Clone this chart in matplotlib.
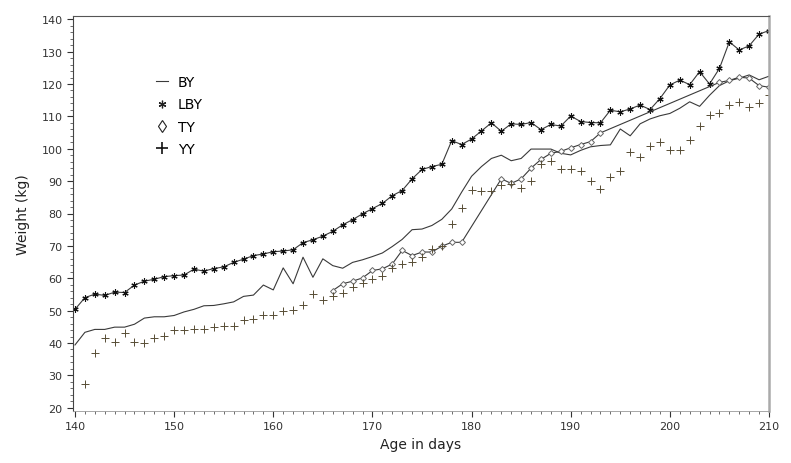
import matplotlib
matplotlib.use("Agg")
import matplotlib.pyplot as plt
from matplotlib.lines import Line2D
from matplotlib.ticker import MultipleLocator
import numpy as np

plt.rcParams['font.family'] = ['DejaVu Sans']

days = list(range(140, 211))

by = [39.4, 43.3, 44.2, 44.2, 44.9, 44.9, 45.8, 47.7, 48.1, 48.1,
      48.5, 49.6, 50.4, 51.5, 51.6, 52.1, 52.7, 54.4, 54.8, 57.9,
      56.4, 63.2, 58.3, 66.5, 60.3, 66.0, 63.9, 63.1, 64.9, 65.7,
      66.7, 67.8, 69.8, 72.0, 75.0, 75.2, 76.3, 78.2, 81.4, 86.6,
      91.5, 94.5, 97.0, 98.0, 96.3, 97.0, 99.9, 99.9, 99.9, 98.6,
      98.1, 99.5, 100.6, 101.0, 101.2, 106.1, 104.0, 107.7, 109.2, 110.2,
      110.9, 112.5, 114.5, 113.1, 116.5, 119.5, 121.0, 121.8, 122.8, 121.3,
      122.4]

lby = [50.4, 54.0, 55.1, 54.7, 55.7, 55.6, 57.9, 59.1, 59.7, 60.5,
       60.8, 61.0, 62.8, 62.2, 63.0, 63.5, 64.9, 65.9, 67.0, 67.5,
       68.2, 68.4, 68.8, 71.0, 71.9, 73.0, 74.5, 76.5, 78.1, 79.9,
       81.5, 83.1, 85.5, 87.1, 90.7, 93.6, 94.5, 95.2, 102.5, 101.3,
       103.0, 105.5, 108.0, 105.4, 107.7, 107.5, 108.1, 105.9, 107.5, 107.0,
       110.1, 108.4, 108.1, 108.0, 111.9, 111.4, 112.3, 113.5, 112.1, 115.5,
       119.7, 121.2, 119.8, 123.8, 120.0, 124.8, 133.0, 130.5, 131.8, 135.4,
       136.5]

ty_days = [166, 167, 168, 169, 170, 171, 172, 173, 174, 175, 176, 177, 178, 179,
           183, 184, 185, 186, 187, 188, 189, 190, 191, 192, 193,
           205, 206, 207, 208, 209, 210]
ty = [56.2, 58.3, 59.1, 60.1, 62.4, 62.9, 64.4, 68.6, 67.0, 68.1, 68.1, 69.9, 71.1, 71.1,
      90.7, 89.3, 90.7, 94.0, 96.7, 98.6, 99.2, 100.3, 101.3, 102.2, 104.9,
      120.5, 121.1, 122.1, 121.8, 119.5, 119.0]

yy_days = list(range(141, 211))
yy = [27.2, 37.0, 41.5, 40.4, 43.1, 40.2, 40.0, 41.5, 42.1,
      43.9, 43.9, 44.4, 44.4, 44.9, 45.3, 45.3, 47.2, 47.4, 48.5,
      48.5, 50.0, 50.2, 51.6, 55.0, 53.3, 54.6, 55.5, 57.2, 58.6,
      59.8, 60.8, 63.2, 64.4, 65.0, 66.5, 69.1, 70.1, 76.9, 81.6,
      87.4, 87.1, 87.1, 88.9, 89.0, 87.9, 89.9, 95.2, 96.3, 93.8,
      93.8, 93.2, 89.9, 87.5, 91.2, 93.2, 99.1, 97.4, 100.7, 102.2,
      99.6, 99.6, 102.8, 107.1, 110.3, 110.9, 113.4, 114.5, 113.0, 114.1,
      116.6]

series_labels = ["BY", "LBY", "TY", "YY"]

fig = plt.figure(figsize=(7.91, 4.64), dpi=100)
ax = fig.add_axes([73/791, 1-412/464, 696/791, 395/464])

line_col = '#3a3a3a'
ax.plot(days, by, color=line_col, lw=0.8)
ax.plot(days, lby, color=line_col, lw=0.8, marker=(6, 2, 0), ms=4.5,
        mec='#111111', mew=0.8)
ax.plot(ty_days, ty, color=line_col, lw=0.8, marker='D', ms=3,
        mfc='white', mec='#666666', mew=0.7)
ax.plot(yy_days, yy, ls='none', marker='+', ms=5.5, mec='#574d35', mew=0.7)

ax.set_xlim(139.8, 210)
ax.set_ylim(19, 141)
ax.xaxis.set_major_locator(MultipleLocator(10))
ax.xaxis.set_minor_locator(MultipleLocator(1))
ax.yaxis.set_major_locator(MultipleLocator(10))
ax.yaxis.set_minor_locator(MultipleLocator(2))
ax.tick_params(which='major', direction='out', length=4, width=0.8,
               labelsize=8, colors='#333333')
ax.tick_params(which='minor', direction='out', length=2.5, width=0.6, colors='#555555')

ax.spines['top'].set_color('#555555')
ax.spines['left'].set_color('#444444')
ax.spines['bottom'].set_color('#999999')
ax.spines['bottom'].set_linewidth(0.6)
ax.spines['right'].set_color('#aaaaaa')
ax.spines['right'].set_linewidth(1.8)

ax.set_xlabel("Age in days", fontsize=10, color='#222222', labelpad=4)
ax.set_ylabel("Weight (kg)", fontsize=10, color='#222222', labelpad=8)

handles = [
    Line2D([], [], color=line_col, lw=0.8),
    Line2D([], [], ls='none', marker=(6, 2, 0), ms=5.5, mec='#222222', mew=0.9),
    Line2D([], [], ls='none', marker='d', ms=6, mfc='white', mec='#222222', mew=0.8),
    Line2D([], [], ls='none', marker='+', ms=8, mec='#111111', mew=1.2),
]
ax.legend(handles, series_labels, loc='upper left', bbox_to_anchor=(0.101, 0.882),
          frameon=False, fontsize=10, handlelength=0.9, handletextpad=0.7,
          labelspacing=0.6)

fig.savefig("out.png", dpi=100)
